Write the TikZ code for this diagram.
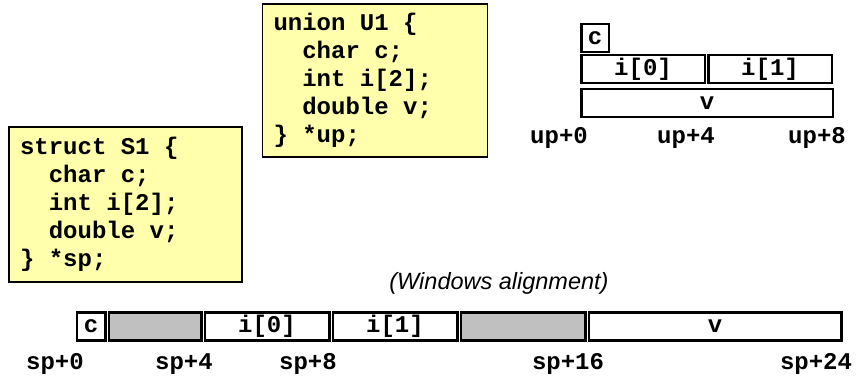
\documentclass[tikz,border=0pt]{standalone}
\usepackage{fontspec}
\setmonofont{Liberation Mono}
\setsansfont{Liberation Sans}
\usetikzlibrary{positioning}
\definecolor{codeyellow}{RGB}{255,255,172}
\definecolor{padgray}{RGB}{192,192,192}
\newcommand{\codeind}{\hspace*{1.2em}}
\newcommand{\codefont}{\fontsize{24}{28}\selectfont\ttfamily\bfseries}

\begin{document}
\begin{tikzpicture}[
    x=1pt, y=-1pt,
    codebox/.style={rectangle, draw, line width=1.5pt, fill=codeyellow, align=left,
                    inner xsep=11pt, inner ysep=0pt, font=\codefont,
                    execute at begin node={\spaceskip=0.6em\xspaceskip=0.6em\relax}},
    cell/.style={rectangle, draw, line width=2.5pt, fill=white, inner sep=0pt, outer sep=0pt,
                 minimum height=28pt, font=\codefont},
    pad/.style={cell, fill=padgray},
    offset/.style={font=\codefont}
]
    \useasboundingbox (0,0) rectangle (862,379);

    % declarations
    \node[codebox, text width=211pt, minimum height=155pt] (s1code) at (125.5,204.5)
        {struct S1 \{\\ \codeind char c;\\ \codeind int i[2];\\ \codeind double v;\\ \} *sp;};
    \node[codebox, text width=203pt, minimum height=153pt] (u1code) at (375,80.5)
        {union U1 \{\\ \codeind char c;\\ \codeind int i[2];\\ \codeind double v;\\ \} *up;};

    % union layout: every member starts at up+0
    \node[cell, minimum width=27.5pt, anchor=north west] (uc) at (581.25,24.25) {c};
    \node[cell, minimum width=123.5pt, anchor=north west] (ui0) at (581.25,55.25) {i[0]};
    \node[cell, minimum width=123.5pt, right=3.5pt of ui0] (ui1) {i[1]};
    \node[cell, minimum width=251.5pt, anchor=north west] (uv) at (581.25,89.25) {v};
    \node[offset] (up0) at (559,138) {up+0};
    \node[offset] (up4) at (686,138) {up+4};
    \node[offset] (up8) at (817,138) {up+8};

    % struct layout
    \node[font=\fontsize{23.5}{26}\selectfont\sffamily\itshape] (win) at (499,283) {(Windows alignment)};
    \node[cell, minimum width=28.5pt] (sc) at (91,326.5) {c};
    \node[pad, minimum width=92.5pt, right=3.5pt of sc] (spad1) {};
    \node[cell, minimum width=124.5pt, right=3.5pt of spad1] (si0) {i[0]};
    \node[cell, minimum width=124.5pt, right=3.5pt of si0] (si1) {i[1]};
    \node[pad, minimum width=124.5pt, right=3.5pt of si1] (spad2) {};
    \node[cell, minimum width=252.5pt, right=3.5pt of spad2] (sv) {v};
    \node[offset] (sp0) at (55,364) {sp+0};
    \node[offset] (sp4) at (184,364) {sp+4};
    \node[offset] (sp8) at (308,364) {sp+8};
    \node[offset] (sp16) at (568,364) {sp+16};
    \node[offset] (sp24) at (816,364) {sp+24};
\end{tikzpicture}
\end{document}
